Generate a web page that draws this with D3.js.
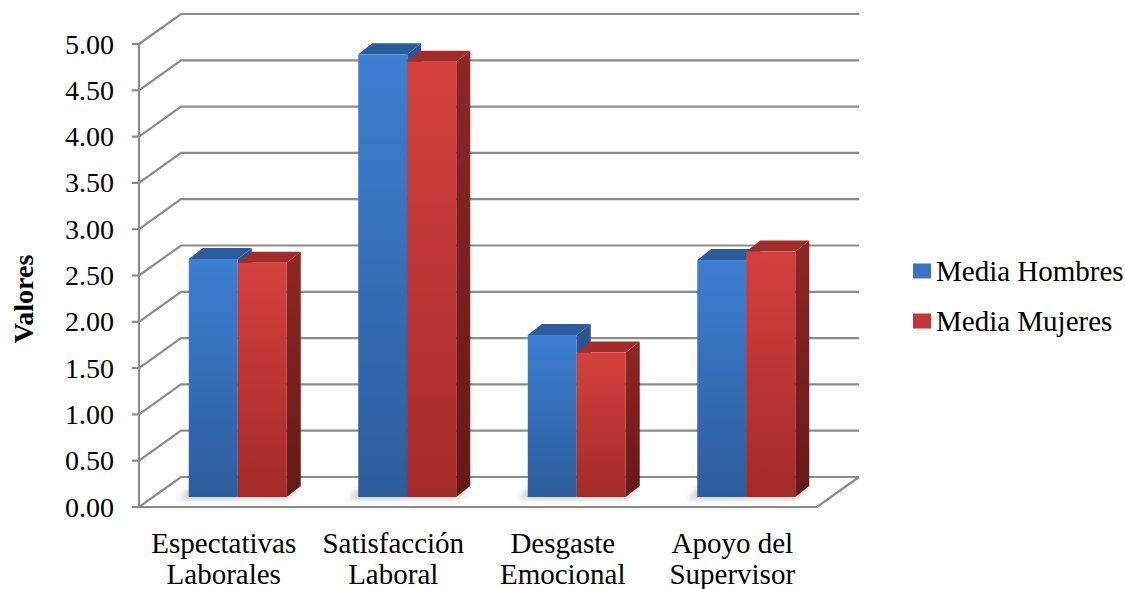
<!DOCTYPE html>
<html>
<head>
<meta charset="utf-8">
<script src="https://cdn.jsdelivr.net/npm/d3@7"></script>
<style>
  html, body { margin: 0; padding: 0; background: #ffffff; }
  svg { display: block; }
</style>
</head>
<body>
<svg id="chart" width="1125" height="589"></svg>
<script>
// Category labels (two lines each), series values and axis ticks
const categories = [
  ["Espectativas", "Laborales"],
  ["Satisfacción", "Laboral"],
  ["Desgaste", "Emocional"],
  ["Apoyo del", "Supervisor"]
];
const seriesNames = ["Media Hombres", "Media Mujeres"];
const mediaHombres = [2.57, 4.78, 1.75, 2.56];
const mediaMujeres = [2.53, 4.70, 1.56, 2.65];
const yTicks = [0, 0.5, 1, 1.5, 2, 2.5, 3, 3.5, 4, 4.5, 5];

const FONT = "'Liberation Serif', 'DejaVu Serif', serif";
const svg = d3.select("#chart");

// Projection of the 3-D box: front plane, floor depth and bar depth
const plot = { left: 139, right: 817, bottom: 507, top: 44 };
const depth = { dx: 42, dy: -30 };         // front edge -> back wall
const barOffset = { dx: 14, dy: -10 };     // front edge -> bar front face
const barDepth = { dx: 14, dy: -11 };      // bar front face -> bar back face

const y = d3.scaleLinear().domain([0, 5]).range([plot.bottom, plot.top]);
const x = d3.scaleBand().domain(d3.range(categories.length)).range([plot.left, plot.right]);
const xSeries = d3.scaleBand().domain(d3.range(seriesNames.length))
  .range([0, x.bandwidth()]).paddingOuter(0.73).paddingInner(0);

const defs = svg.append("defs");
function vGrad(id, top, bottom) {
  const g = defs.append("linearGradient").attr("id", id)
    .attr("x1", 0).attr("y1", 0).attr("x2", 0).attr("y2", 1);
  g.append("stop").attr("offset", "0%").attr("stop-color", top);
  g.append("stop").attr("offset", "100%").attr("stop-color", bottom);
}
vGrad("blueFront", "#3d7fd2", "#2d5c9b");
vGrad("blueSide", "#2b5694", "#1f3f70");
vGrad("redFront", "#d5403d", "#a32b29");
vGrad("redSide", "#8e2725", "#661918");
defs.append("filter").attr("id", "soft").attr("x", "-50%").attr("y", "-50%")
  .attr("width", "200%").attr("height", "200%")
  .append("feGaussianBlur").attr("stdDeviation", 3);

const palette = [
  { front: "url(#blueFront)", top: "#2d5c9c", side: "url(#blueSide)", legend: "#3a74c0" },
  { front: "url(#redFront)", top: "#a22c2a", side: "url(#redSide)", legend: "#c0393a" }
];

const gridColor = "#8c8c8c";
const grid = svg.append("g").attr("stroke", gridColor).attr("stroke-width", 2.2).attr("fill", "none");

// Floor outline
const fl = plot.left, fr = plot.right, fb = plot.bottom;
grid.append("path").attr("d", d3.line()([
  [fl, fb], [fr, fb], [fr + depth.dx, fb + depth.dy]
]));

// Back-wall gridlines with their diagonal on the side wall
yTicks.forEach(t => {
  const yf = y(t), yb = y(t) + depth.dy;
  grid.append("path").attr("d", d3.line()([
    [fl, yf], [fl + depth.dx, yb], [fr + depth.dx, yb]
  ]));
});

// Value axis on the front-left edge
const axisG = svg.append("g");
axisG.append("line").attr("x1", fl).attr("x2", fl)
  .attr("y1", y(5)).attr("y2", y(0))
  .attr("stroke", gridColor).attr("stroke-width", 2.2);
axisG.selectAll("line.tick").data(yTicks).join("line").attr("class", "tick")
  .attr("x1", fl - 7).attr("x2", fl)
  .attr("y1", d => y(d)).attr("y2", d => y(d))
  .attr("stroke", gridColor).attr("stroke-width", 2.2);
axisG.selectAll("text").data(yTicks).join("text")
  .attr("x", 114).attr("y", d => y(d)).attr("dy", "0.34em")
  .attr("text-anchor", "end").attr("font-size", 28).attr("font-family", FONT)
  .text(d => d3.format(".2f")(d));

// Axis title
svg.append("text")
  .attr("transform", "translate(33,299) rotate(-90)")
  .attr("text-anchor", "middle").attr("font-size", 28).attr("font-weight", "bold")
  .attr("font-family", FONT)
  .text("Valores");

// Bars
const series = [mediaHombres, mediaMujeres];
const bars = svg.append("g");
const baseY = y(0) + barOffset.dy;
categories.forEach((c, i) => {
  // soft floor shadow under the pair of bars
  const sx0 = x(i) + xSeries(0) + barOffset.dx;
  const sx1 = x(i) + xSeries(1) + xSeries.bandwidth() + barOffset.dx + barDepth.dx;
  bars.append("path")
    .attr("d", d3.line()([
      [sx0 - 10, baseY + 2], [sx1 - 14, baseY + 2],
      [sx1 - 2, baseY + barDepth.dy + 2], [sx0 + 2, baseY + barDepth.dy + 2]
    ]))
    .attr("fill", "#9a9a9a").attr("opacity", 0.55).attr("filter", "url(#soft)");

  series.forEach((vals, s) => {
    const v = vals[i];
    const xl = x(i) + xSeries(s) + barOffset.dx;
    const xr = xl + xSeries.bandwidth();
    const yt = y(v) + barOffset.dy;
    const p = palette[s];
    const g = bars.append("g");
    // side face
    g.append("path").attr("d", d3.line()([
      [xr, yt], [xr + barDepth.dx, yt + barDepth.dy],
      [xr + barDepth.dx, baseY + barDepth.dy], [xr, baseY]
    ]) + "Z").attr("fill", p.side);
    // top face
    g.append("path").attr("d", d3.line()([
      [xl, yt], [xr, yt], [xr + barDepth.dx, yt + barDepth.dy], [xl + barDepth.dx, yt + barDepth.dy]
    ]) + "Z").attr("fill", p.top);
    // front face
    g.append("rect").attr("x", xl).attr("y", yt)
      .attr("width", xr - xl).attr("height", baseY - yt)
      .attr("fill", p.front);
  });
});

// Category labels
const labels = svg.append("g");
categories.forEach((lines, i) => {
  const t = labels.append("text")
    .attr("x", x(i) + x.bandwidth() / 2).attr("y", 553)
    .attr("text-anchor", "middle").attr("font-size", 29).attr("font-family", FONT);
  lines.forEach((ln, k) => {
    t.append("tspan").attr("x", x(i) + x.bandwidth() / 2)
      .attr("dy", k === 0 ? 0 : 31).text(ln);
  });
});

// Legend
const legend = svg.append("g").attr("transform", "translate(913,0)");
seriesNames.forEach((name, s) => {
  const cy = 271 + s * 50;
  legend.append("rect").attr("x", 0).attr("y", cy - 7.5)
    .attr("width", 18).attr("height", 15).attr("fill", palette[s].legend);
  legend.append("text").attr("x", 23).attr("y", cy).attr("dy", "0.34em")
    .attr("font-size", 29).attr("font-family", FONT).text(name);
});
</script>
</body>
</html>
